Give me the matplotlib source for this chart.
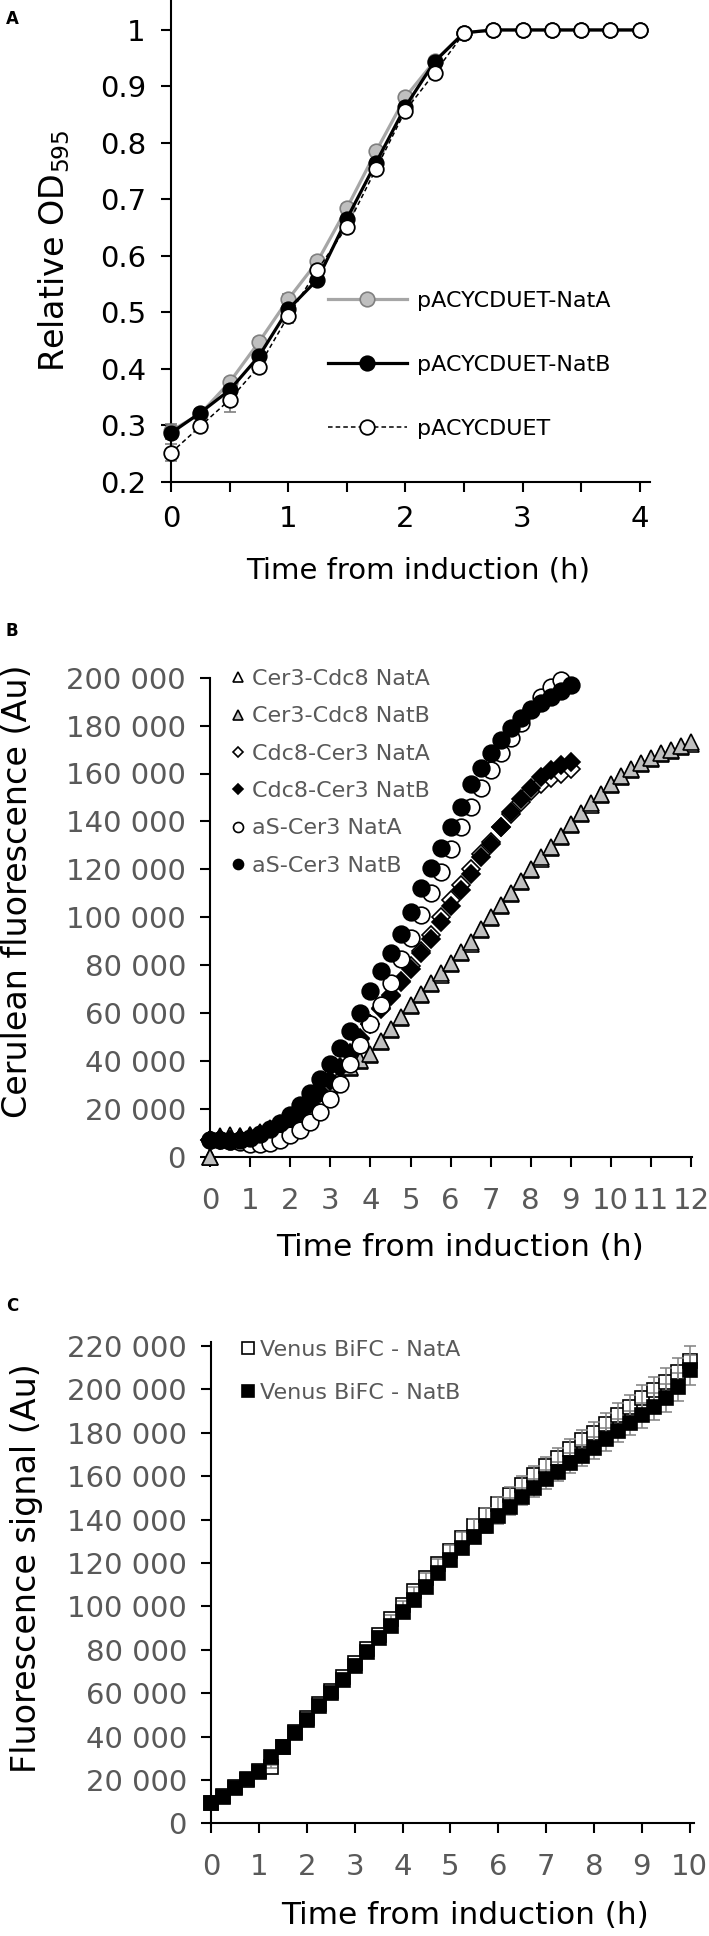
import numpy as np
import matplotlib
matplotlib.use("Agg")
import matplotlib.pyplot as plt
from matplotlib.ticker import FixedLocator

plt.rcParams['font.family'] = ['DejaVu Sans']

# ---------------- data: panel A ----------------
time_A = np.arange(0, 4.001, 0.25)
natA_A = [0.290, 0.320, 0.376, 0.447, 0.523, 0.590, 0.684, 0.785, 0.881, 0.945, 0.995,
          1.0, 1.0, 1.0, 1.0, 1.0, 1.0]
natB_A = [0.286, 0.322, 0.362, 0.422, 0.505, 0.558, 0.665, 0.765, 0.864, 0.944, 0.995,
          1.0, 1.0, 1.0, 1.0, 1.0, 1.0]
ctrl_A = [0.251, 0.298, 0.345, 0.404, 0.493, 0.575, 0.651, 0.754, 0.857, 0.924, 0.994,
          1.0, 1.0, 1.0, 1.0, 1.0, 1.0]
errA_A = [0.012, 0.006, 0.008, 0.008, 0.010, 0.008, 0.008, 0.006, 0.006, 0.005, 0.003,
          0, 0, 0, 0, 0, 0]
errB_A = [0.010, 0.006, 0.010, 0.008, 0.008, 0.010, 0.008, 0.006, 0.006, 0.006, 0.003,
          0, 0, 0, 0, 0, 0]
errC_A = [0.015, 0.008, 0.022, 0.010, 0.012, 0.010, 0.010, 0.008, 0.006, 0.006, 0.003,
          0, 0, 0, 0, 0, 0]
labels_A = ['pACYCDUET-NatA', 'pACYCDUET-NatB', 'pACYCDUET']
xticks_A = [0, 1, 2, 3, 4]
yticks_A = [0.2, 0.3, 0.4, 0.5, 0.6, 0.7, 0.8, 0.9, 1.0]
yticklabels_A = ['0.2', '0.3', '0.4', '0.5', '0.6', '0.7', '0.8', '0.9', '1']

# ---------------- data: panel B ----------------
time_B12 = np.arange(0, 12.001, 0.25)
time_B9 = np.arange(0, 9.001, 0.25)
time_B875 = np.arange(0, 8.751, 0.25)
cer3cdc8_natB = [0, 8500, 9000, 8800, 9200, 10500, 12000, 14000, 16500, 19500, 23000, 27000,
                 30500, 34000, 37500, 40500, 43000, 48500, 53500, 58500, 63500, 68000, 72500,
                 76500, 81000, 85500, 89500, 95000, 100000, 105000, 110000, 115000, 120000,
                 125000, 129500, 134000, 139000, 143500, 147500, 151500, 155500, 159000,
                 162000, 164500, 166500, 168500, 170000, 171500, 173000]
cer3cdc8_natA = [0, 8000, 8500, 8500, 9000, 10000, 11500, 13500, 16000, 19000, 22500, 26500,
                 30000, 33500, 37000, 40000, 42500, 48000, 53000, 58000, 63000, 67500, 72000,
                 76000, 80500, 85000, 89000, 94500, 99500, 104500, 109500, 114500, 119500,
                 124500, 129000, 133500, 138500, 143000, 147000, 151000, 155000, 158500,
                 161500, 164000, 166000, 168000, 169500, 171000, 172500]
cdc8cer3_natA = [7100, 7000, 7100, 7000, 7500, 8500, 9800, 11800, 14500, 18000, 22000, 26500,
                 31500, 37000, 43000, 49000, 55500, 62000, 67500, 73500, 79500, 86000, 92500,
                 100000, 107000, 113500, 120000, 126500, 131500, 137500, 143000, 148000,
                 152500, 155500, 158000, 160000, 162000]
cdc8cer3_natB = [7000, 7200, 7000, 7200, 7800, 8800, 10200, 12200, 15000, 18500, 22500, 27000,
                 32000, 37500, 43500, 49500, 55500, 61500, 67000, 73000, 78500, 85000, 91000,
                 98000, 104500, 111500, 118000, 125000, 130500, 137500, 144000, 149500,
                 154000, 158500, 161500, 163500, 165000]
aS_natA = [7000, 7000, 6500, 6000, 5500, 5500, 5700, 7000, 9000, 11000, 14500, 18800, 24000,
           30500, 38500, 46500, 55500, 63500, 72500, 82500, 91500, 101000, 110000, 119000,
           128500, 137500, 146000, 154000, 161500, 168500, 175000, 181000, 187000, 192000,
           196000, 199000]
aS_natB = [7000, 7000, 6500, 6800, 8000, 9500, 11500, 14000, 17500, 21500, 26500, 32500,
           38500, 45500, 52500, 60000, 69000, 77500, 85000, 93000, 102000, 112000, 120500,
           129000, 137500, 146000, 155500, 162500, 168500, 174000, 179000, 183000, 186500,
           189500, 192000, 194500, 197000]
labels_B = ['Cer3-Cdc8 NatA', 'Cer3-Cdc8 NatB', 'Cdc8-Cer3 NatA', 'Cdc8-Cer3 NatB',
            'aS-Cer3 NatA', 'aS-Cer3 NatB']
xticks_B = list(range(0, 13))
yticks_B = [0, 20000, 40000, 60000, 80000, 100000, 120000, 140000, 160000, 180000, 200000]
yticklabels_B = ['0', '20 000', '40 000', '60 000', '80 000', '100 000', '120 000',
                 '140 000', '160 000', '180 000', '200 000']

# ---------------- data: panel C ----------------
time_C = np.arange(0, 10.001, 0.25)
venus_natA = [9500, 12500, 16500, 20000, 24000, 26000, 35000, 42000, 48500, 55000, 61000,
              67500, 74000, 80500, 87000, 94000, 100500, 107000, 113000, 119500, 125500,
              131500, 137000, 142000, 147000, 151500, 156000, 160500, 164500, 168500,
              172500, 176500, 180000, 184000, 188000, 192000, 196000, 199500, 203500,
              208000, 213000]
venus_natB = [9500, 12300, 16100, 20300, 23800, 30700, 35300, 41500, 47600, 54000, 59900,
              66000, 72500, 79000, 85300, 91000, 97500, 103000, 109000, 115500, 121500,
              127000, 132000, 137000, 141500, 146000, 150500, 154500, 158500, 162000,
              166000, 169500, 173000, 177000, 181000, 184500, 188000, 192000, 196000,
              201000, 209000]
err_natA_C = [500, 600, 500, 700, 800, 700, 900, 1000, 1100, 1000, 1300, 1400, 1500, 1400,
              1700, 1800, 2000, 2100, 2300, 2500, 2600, 2900, 3100, 3300, 3500, 3600, 3900,
              4100, 4300, 4500, 4700, 4900, 5100, 5300, 5500, 5600, 5900, 6100, 6200, 6500,
              6800]
err_natB_C = [500, 500, 600, 600, 700, 800, 900, 900, 1100, 1200, 1200, 1400, 1500, 1600,
              1600, 1800, 1900, 2100, 2300, 2400, 2700, 2800, 3000, 3300, 3400, 3700, 3800,
              4100, 4300, 4400, 4700, 4900, 5000, 5300, 5500, 5700, 5800, 6100, 6300, 6600,
              7000]
labels_C = ['Venus BiFC - NatA', 'Venus BiFC - NatB']
xticks_C = list(range(0, 11))
yticks_C = [0, 20000, 40000, 60000, 80000, 100000, 120000, 140000, 160000, 180000, 200000,
            220000]
yticklabels_C = ['0', '20 000', '40 000', '60 000', '80 000', '100 000', '120 000',
                 '140 000', '160 000', '180 000', '200 000', '220 000']

# ---------------- figure ----------------
W, H = 709, 1936
fig = plt.figure(figsize=(W / 100, H / 100), dpi=100)


def ax_px(left, right, top, bottom):
    return fig.add_axes([left / W, 1 - bottom / H, (right - left) / W, (bottom - top) / H])


GRAY_TXT = '#595959'


def style(ax, labelcolor, xpad, ypad, size=21):
    for s in ['top', 'right']:
        ax.spines[s].set_visible(False)
    for s in ['left', 'bottom']:
        ax.spines[s].set_linewidth(1.5)
        ax.spines[s].set_color('black')
    ax.tick_params(which='both', direction='out', length=7, width=1.5,
                   labelsize=size, labelcolor=labelcolor, color='black')
    ax.tick_params(axis='x', pad=xpad)
    ax.tick_params(axis='y', pad=ypad)
    ax.patch.set_alpha(0)


# ---------- Panel A ----------
axA = ax_px(170.9, 650.3, 0.6, 481.7)
axA.set_xlim(0, 4.09)
axA.set_ylim(0.2, 1.052)
style(axA, 'black', 10, 11)
axA.xaxis.set_major_locator(FixedLocator(xticks_A))
axA.xaxis.set_minor_locator(FixedLocator([0.5, 1.5, 2.5, 3.5]))
axA.set_xticklabels([str(v) for v in xticks_A])
axA.yaxis.set_major_locator(FixedLocator(yticks_A))
axA.set_yticklabels(yticklabels_A)

axA.errorbar(time_A, natA_A, yerr=errA_A, fmt='none', ecolor='#808080', elinewidth=1.2,
             capsize=4, capthick=1.2, zorder=2, clip_on=False)
axA.errorbar(time_A, natB_A, yerr=errB_A, fmt='none', ecolor='#606060', elinewidth=1.2,
             capsize=4, capthick=1.2, zorder=2, clip_on=False)
axA.errorbar(time_A, ctrl_A, yerr=errC_A, fmt='none', ecolor='#808080', elinewidth=1.2,
             capsize=4, capthick=1.2, zorder=2, clip_on=False)
hA1, = axA.plot(time_A, natA_A, color='#A6A6A6', lw=2.3, marker='o', ms=10.5,
                mfc='#BFBFBF', mec='#7F7F7F', mew=1.2, zorder=3, clip_on=False)
hA2, = axA.plot(time_A, natB_A, color='black', lw=2.3, marker='o', ms=10.5,
                mfc='black', mec='black', mew=1.2, zorder=4, clip_on=False)
hA3, = axA.plot(time_A, ctrl_A, color='black', lw=1.1, ls=(0, (3, 2)), marker='o', ms=10.5,
                mfc='white', mec='black', mew=1.3, zorder=5, clip_on=False)
axA.legend([hA1, hA2, hA3], labels_A, loc='upper left',
           bbox_to_anchor=(327.8 / W, 1 - 291 / H), bbox_transform=fig.transFigure,
           frameon=False, fontsize=16, handlelength=3.56, handletextpad=0.45,
           labelspacing=1.98, borderpad=0, borderaxespad=0, numpoints=1)

# ---------- Panel B ----------
axB = ax_px(210.3, 691.7, 677.7, 1156.7)
axB.set_xlim(0, 12.02)
axB.set_ylim(0, 200000)
style(axB, GRAY_TXT, 14.5, 10.5)
axB.xaxis.set_major_locator(FixedLocator(xticks_B))
axB.set_xticklabels([str(v) for v in xticks_B])
axB.yaxis.set_major_locator(FixedLocator(yticks_B))
axB.set_yticklabels(yticklabels_B)

mk = dict(ls='none', mew=1.2, clip_on=False, mec='black')
hB1, = axB.plot(time_B12, cer3cdc8_natA, marker='^', ms=12, mfc='white', zorder=3, **mk)
hB2, = axB.plot(time_B12, cer3cdc8_natB, marker='^', ms=12, mfc='#BFBFBF', zorder=4, **mk)
hB3, = axB.plot(time_B9, cdc8cer3_natA, marker='D', ms=9, mfc='white', zorder=5, **mk)
hB4, = axB.plot(time_B9, cdc8cer3_natB, marker='D', ms=9, mfc='black', zorder=6, **mk)
hB5, = axB.plot(time_B875, aS_natA, marker='o', ms=12, mfc='white', zorder=7, **mk)
hB6, = axB.plot(time_B9, aS_natB, marker='o', ms=12, mfc='black', zorder=8, **mk)
axB.legend([hB1, hB2, hB3, hB4, hB5, hB6], labels_B, loc='upper left',
           bbox_to_anchor=(231.3 / W, 1 - 669 / H), bbox_transform=fig.transFigure,
           frameon=False, fontsize=16, handlelength=0.6, handletextpad=0.33,
           labelspacing=0.78, borderpad=0, borderaxespad=0, numpoints=1,
           markerscale=0.6, labelcolor=GRAY_TXT)

# ---------- Panel C ----------
axC = ax_px(211.2, 694.3, 1341.6, 1823.3)
axC.set_xlim(0, 10.1)
axC.set_ylim(0, 222000)
style(axC, GRAY_TXT, 14.5, 10.5)
axC.xaxis.set_major_locator(FixedLocator(xticks_C))
axC.set_xticklabels([str(v) for v in xticks_C])
axC.yaxis.set_major_locator(FixedLocator(yticks_C))
axC.set_yticklabels(yticklabels_C)

hC1, = axC.plot(time_C, venus_natA, marker='s', ms=10.5, mfc='white', zorder=3, **mk)
axC.errorbar(time_C, venus_natA, yerr=err_natA_C, fmt='none', ecolor='#808080',
             elinewidth=1.1, capsize=4, capthick=1.1, zorder=4, clip_on=False)
hC2, = axC.plot(time_C, venus_natB, marker='s', ms=10.5, mfc='black', zorder=5, **mk)
axC.errorbar(time_C, venus_natB, yerr=err_natB_C, fmt='none', ecolor='#808080',
             elinewidth=1.1, capsize=4, capthick=1.1, zorder=4.5, clip_on=False)
axC.legend([hC1, hC2], labels_C, loc='upper left',
           bbox_to_anchor=(241 / W, 1 - 1340 / H), bbox_transform=fig.transFigure,
           frameon=False, fontsize=16, handlelength=0.6, handletextpad=0.26,
           labelspacing=1.04, borderpad=0, borderaxespad=0, numpoints=1,
           markerscale=0.82, labelcolor=GRAY_TXT)

# ---------- axis titles and panel letters ----------
def ftext(x, y, s, **kw):
    fig.text(x / W, 1 - y / H, s, ha='center', va='center', **kw)


ftext(54, 251, 'Relative OD$_{595}$', rotation=90, fontsize=24)
ftext(418, 570, 'Time from induction (h)', fontsize=21)
ftext(18, 891, 'Cerulean fluorescence (Au)', rotation=90, fontsize=24)
ftext(460, 1247, 'Time from induction (h)', fontsize=22.5)
ftext(27, 1568, 'Fluorescence signal (Au)', rotation=90, fontsize=24)
ftext(465, 1916, 'Time from induction (h)', fontsize=22.5)

ftext(12, 19, 'A', fontsize=12, fontweight='bold')
ftext(12, 631, 'B', fontsize=12, fontweight='bold')
ftext(12, 1306, 'C', fontsize=12, fontweight='bold')

fig.savefig('out.png', dpi=100)
